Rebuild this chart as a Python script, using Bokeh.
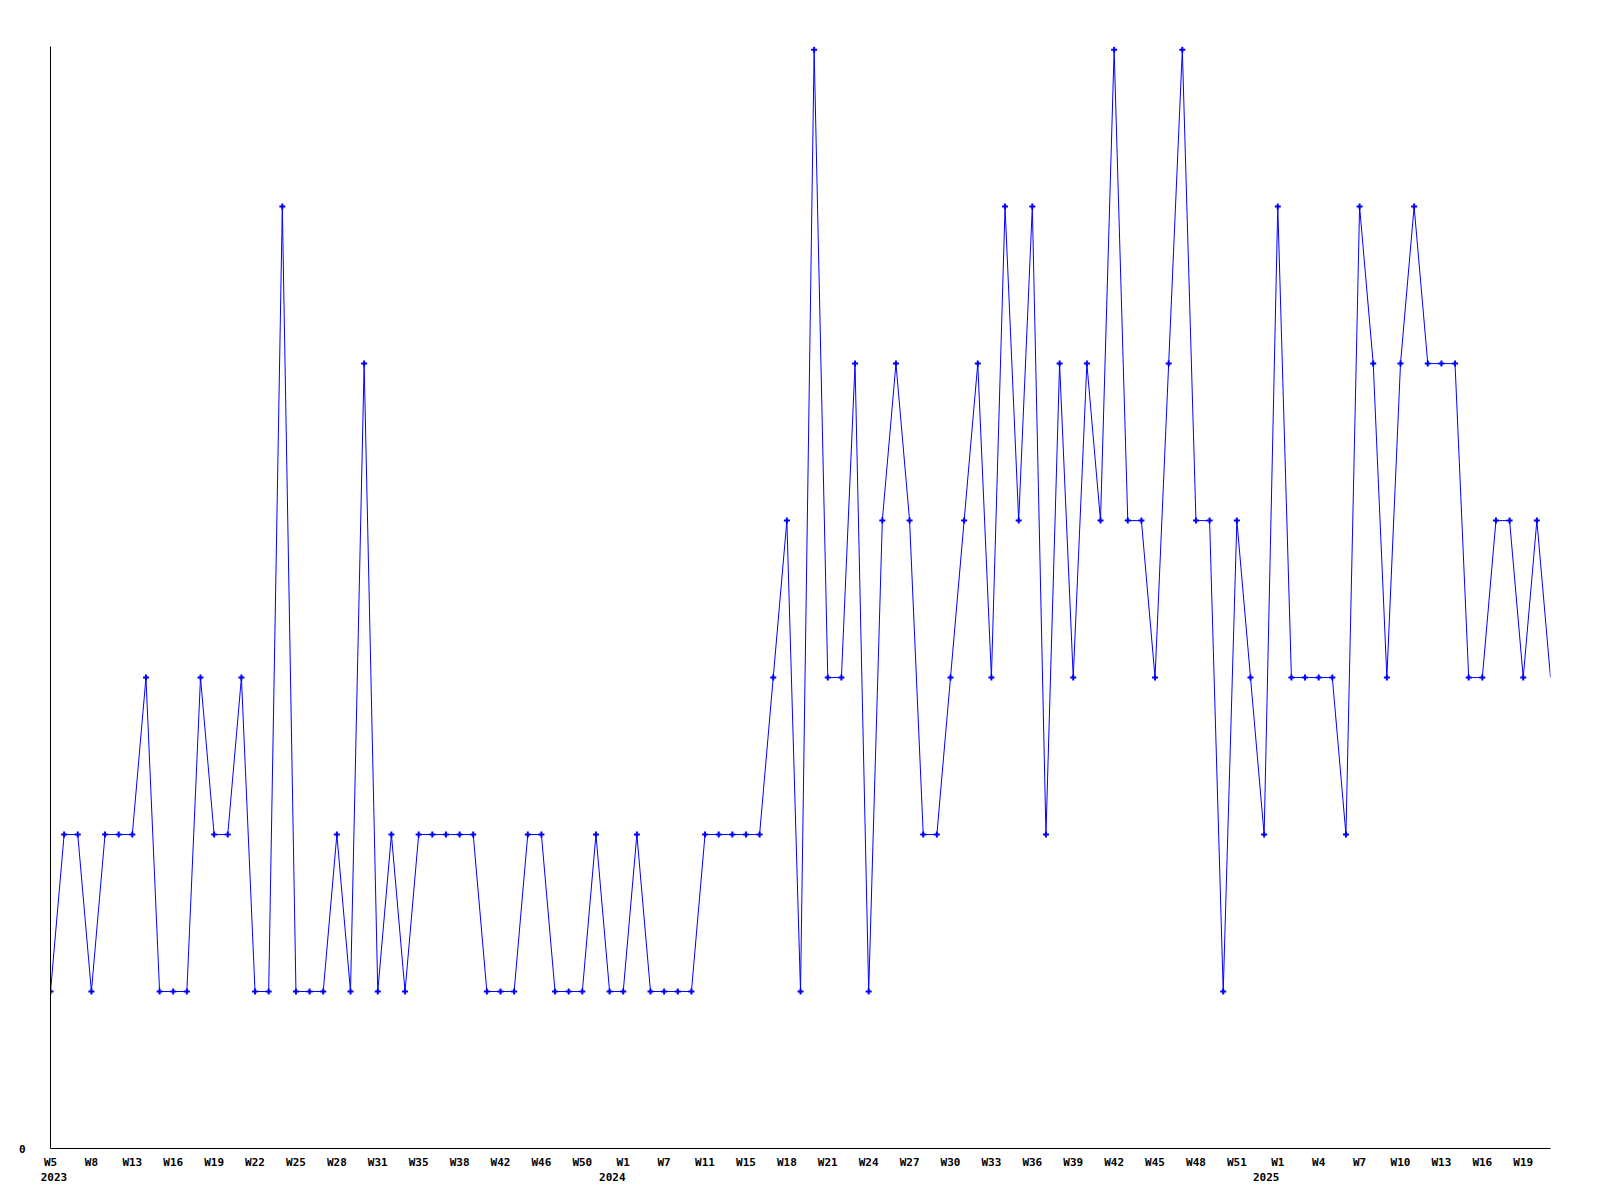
from bokeh.plotting import figure
from bokeh.models import Range1d, FixedTicker, LinearAxis, ColumnDataSource, CDSView, IndexFilter
from bokeh.embed import file_html
from bokeh.resources import INLINE

values = [1, 2, 2, 1, 2, 2, 2, 3, 1, 1,
          1, 3, 2, 2, 3, 1, 1, 6, 1, 1,
          1, 2, 1, 5, 1, 2, 1, 2, 2, 2,
          2, 2, 1, 1, 1, 2, 2, 1, 1, 1,
          2, 1, 1, 2, 1, 1, 1, 1, 2, 2,
          2, 2, 2, 3, 4, 1, 7, 3, 3, 5,
          1, 4, 5, 4, 2, 2, 3, 4, 5, 3,
          6, 4, 6, 2, 5, 3, 5, 4, 7, 4,
          4, 3, 5, 7, 4, 4, 1, 4, 3, 2,
          6, 3, 3, 3, 3, 2, 6, 5, 3, 5,
          6, 5, 5, 5, 3, 3, 4, 4, 3, 4,
          3]
week_labels = ["W5", "W8", "W13", "W16", "W19", "W22", "W25", "W28", "W31", "W35",
               "W38", "W42", "W46", "W50", "W1", "W7", "W11", "W15", "W18", "W21",
               "W24", "W27", "W30", "W33", "W36", "W39", "W42", "W45", "W48", "W51",
               "W1", "W4", "W7", "W10", "W13", "W16", "W19"]
label_step = 3
year_labels = ["2023", "2024", "2025"]
year_ticks = [0.25, 41.2, 89.15]

x = list(range(len(values)))
src = ColumnDataSource(data=dict(x=x, y=values))

p = figure(width=1592, height=1190, output_backend="svg", toolbar_location=None,
           x_range=Range1d(0, len(values) - 1), y_range=Range1d(0, 7.02),
           min_border_left=50, min_border_right=42, min_border_top=46, min_border_bottom=42,
           x_axis_location=None, y_axis_location=None)
p.outline_line_color = None
p.xgrid.visible = False
p.ygrid.visible = False
p.background_fill_color = "white"

FONT = "DejaVu Sans Mono"

yaxis = LinearAxis(ticker=FixedTicker(ticks=[0]))
yaxis.major_label_overrides = {0: "0"}
yaxis.major_tick_out = 0
yaxis.major_tick_in = 0
yaxis.minor_tick_out = 0
yaxis.minor_tick_in = 0
yaxis.major_label_standoff = 25
yaxis.axis_line_color = "black"
yaxis.major_label_text_font = FONT
yaxis.major_label_text_font_style = "bold"
yaxis.major_label_text_font_size = "11px"
yaxis.major_label_text_color = "black"
yaxis.major_label_text_baseline = "middle"
p.add_layout(yaxis, "left")

tick_pos = [i * label_step for i in range(len(week_labels))]
xaxis = LinearAxis(ticker=FixedTicker(ticks=tick_pos))
xaxis.major_label_overrides = {t: lab for t, lab in zip(tick_pos, week_labels)}
xaxis.major_tick_out = 0
xaxis.major_tick_in = 0
xaxis.minor_tick_out = 0
xaxis.minor_tick_in = 0
xaxis.major_label_standoff = 7
xaxis.axis_line_color = "black"
xaxis.major_label_text_font = FONT
xaxis.major_label_text_font_style = "bold"
xaxis.major_label_text_font_size = "11px"
xaxis.major_label_text_color = "black"
p.add_layout(xaxis, "below")

yrax = LinearAxis(ticker=FixedTicker(ticks=year_ticks))
yrax.major_label_overrides = {t: lab for t, lab in zip(year_ticks, year_labels)}
yrax.major_tick_out = 0
yrax.major_tick_in = 0
yrax.minor_tick_out = 0
yrax.minor_tick_in = 0
yrax.major_label_standoff = 1
yrax.axis_line_color = None
yrax.major_label_text_font = FONT
yrax.major_label_text_font_style = "bold"
yrax.major_label_text_font_size = "11px"
yrax.major_label_text_color = "black"
p.add_layout(yrax, "below")

p.line("x", "y", source=src, line_color="#0000ff", line_width=1)
view = CDSView(filter=IndexFilter(list(range(len(values) - 1))))
p.scatter("x", "y", source=src, view=view, marker="cross", size=6, line_width=2,
          line_color="#0000ff")

open("out.html", "w").write(file_html(p, INLINE))
